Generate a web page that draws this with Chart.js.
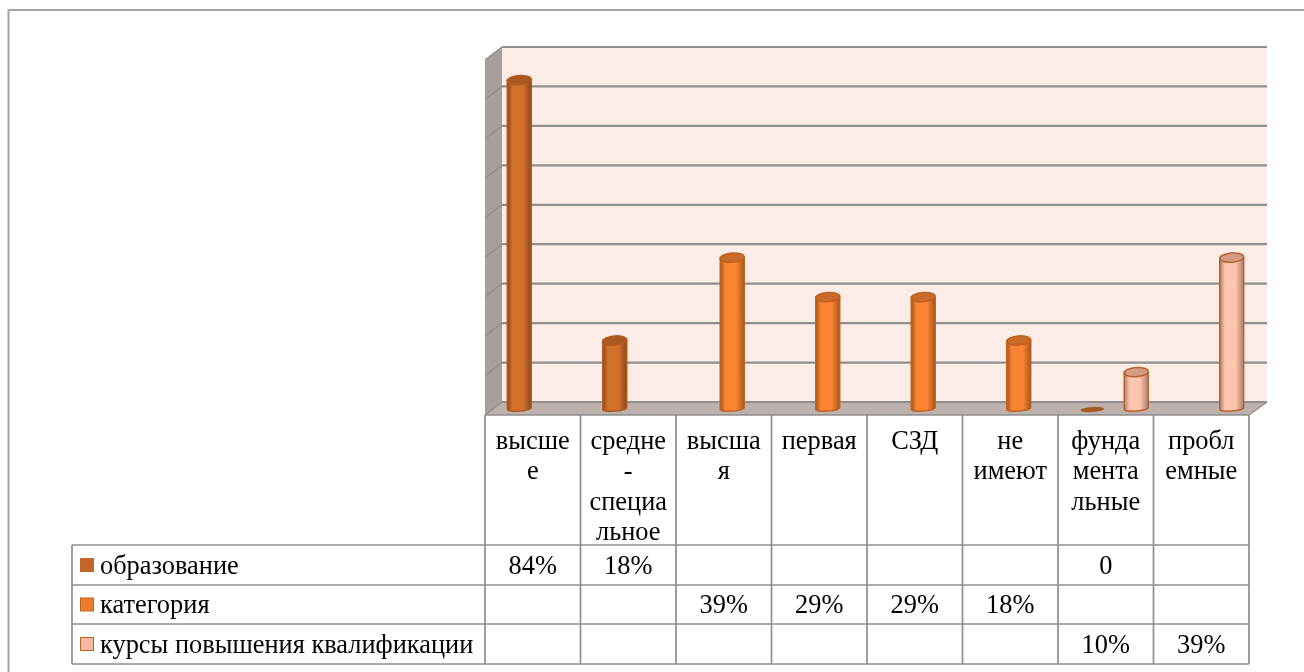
<!DOCTYPE html>
<html>
<head>
<meta charset="utf-8">
<title>chart</title>
<script src="https://cdn.jsdelivr.net/npm/chart.js@4"></script>
<style>
  html,body{margin:0;padding:0;background:#fff;overflow:hidden}
  canvas{display:block}
</style>
</head>
<body>
<canvas id="c" width="1304" height="672"></canvas>
<script>
// ----- data -----
const categories = [
  ["высше","е"],
  ["средне","-","специа","льное"],
  ["высша","я"],
  ["первая"],
  ["СЗД"],
  ["не","имеют"],
  ["фунда","мента","льные"],
  ["пробл","емные"]
];
const seriesNames = ["образование","категория","курсы повышения квалификации"];
const education = [84,18,null,null,null,null,0,null];
const category  = [null,null,39,29,29,18,null,null];
const courses   = [null,null,null,null,null,null,10,39];
const yTicks = {min:0,max:90,step:10};

// ----- looks -----
const FONT = '26.4px "Liberation Serif"';
const GRID = "#8f8f8f";
const LOOK = [
  {swatch:"#c4662a",edge:"#8f4814",mid:"#d2702c",top:"#a9591f",line:"#b25a1e"},
  {swatch:"#f27c2e",edge:"#a9551b",mid:"#fa8433",top:"#c96a28",line:"#c0621f"},
  {swatch:"#f8b9a4",edge:"#ab7f70",mid:"#ffc4ae",top:"#d29c86",line:"#b8622a"}
];
const DEPTH_X = 17, DEPTH_Y = 13;
const TABLE = {left:72, rows:[545,585,624,664]};

const fmt = v => v===null ? "" : (v===0 ? "0" : v+"%");

function drawWalls(ctx, area, y){
  const l=area.left, r=area.right, t=area.top, b=area.bottom;
  // back wall
  ctx.fillStyle="#fcece7";
  ctx.fillRect(l+DEPTH_X,t-DEPTH_Y,r-l+1,b-t);
  // side wall
  ctx.fillStyle="#a79f9b";
  ctx.beginPath();
  ctx.moveTo(l,t);ctx.lineTo(l+DEPTH_X,t-DEPTH_Y);ctx.lineTo(l+DEPTH_X,b-DEPTH_Y);ctx.lineTo(l,b);
  ctx.closePath();ctx.fill();
  // floor
  ctx.fillStyle="#bdb1ad";
  ctx.beginPath();
  ctx.moveTo(l,b);ctx.lineTo(l+DEPTH_X,b-DEPTH_Y);ctx.lineTo(r+DEPTH_X+1,b-DEPTH_Y);ctx.lineTo(r,b);
  ctx.closePath();ctx.fill();
  // gridlines run along the side wall then the back wall
  ctx.strokeStyle=GRID;
  y.ticks.forEach(tk=>{
    const py=y.getPixelForValue(tk.value);
    ctx.lineWidth=2.2;
    ctx.beginPath();
    ctx.moveTo(l+DEPTH_X,py-DEPTH_Y);ctx.lineTo(r+DEPTH_X+1,py-DEPTH_Y);
    ctx.stroke();
    ctx.lineWidth=1.5;
    ctx.beginPath();
    ctx.moveTo(l,py);ctx.lineTo(l+DEPTH_X,py-DEPTH_Y);
    ctx.stroke();
  });
  ctx.lineWidth=1.5;
  ctx.beginPath();
  ctx.moveTo(r,b);ctx.lineTo(r+DEPTH_X+1,b-DEPTH_Y);
  ctx.stroke();
}

function drawCylinder(ctx, bar, look){
  const cx=bar.x+DEPTH_X/2, w=bar.width+2, rx=w/2, ry=4.6;
  const topY=bar.y-DEPTH_Y/2+3, baseY=bar.base-DEPTH_Y/2;
  const tilt=-0.07;
  if(baseY-topY<4){ // zero value, just the flat disc
    ctx.fillStyle=look.top;
    ctx.beginPath();ctx.ellipse(cx,baseY+1,rx,2.5,tilt,0,Math.PI*2);ctx.fill();
    return;
  }
  const g=ctx.createLinearGradient(cx-rx,0,cx+rx,0);
  g.addColorStop(0,look.edge);g.addColorStop(.22,look.mid);
  g.addColorStop(.66,look.mid);g.addColorStop(1,look.edge);
  ctx.fillStyle=g;
  ctx.strokeStyle=look.line;
  ctx.lineWidth=1.5;
  ctx.beginPath();
  ctx.moveTo(cx-rx,topY);
  ctx.lineTo(cx-rx,baseY);
  ctx.ellipse(cx,baseY,rx,2.6,tilt,Math.PI,0,true);
  ctx.lineTo(cx+rx,topY);
  ctx.closePath();
  ctx.fill();ctx.stroke();
  ctx.fillStyle=look.top;
  ctx.beginPath();ctx.ellipse(cx,topY,rx,ry,tilt,0,Math.PI*2);ctx.fill();ctx.stroke();
}

function drawTable(ctx, chart){
  const x=chart.scales.x, area=chart.chartArea, rows=TABLE.rows;
  const half=(x.getPixelForTick(1)-x.getPixelForTick(0))/2;
  const series=[education,category,courses];
  ctx.strokeStyle=GRID;
  ctx.lineWidth=1.7;
  ctx.beginPath();
  // columns
  ctx.moveTo(area.left,area.bottom);ctx.lineTo(area.left,rows[3]);
  categories.forEach((c,i)=>{
    const px=x.getPixelForTick(i)+half;
    ctx.moveTo(px,area.bottom);ctx.lineTo(px,rows[3]);
  });
  ctx.moveTo(TABLE.left,rows[0]);ctx.lineTo(TABLE.left,rows[3]);
  // rows
  ctx.moveTo(area.left,area.bottom);ctx.lineTo(area.right,area.bottom);
  rows.forEach(r=>{ctx.moveTo(TABLE.left,r);ctx.lineTo(area.right,r);});
  ctx.stroke();

  ctx.font=FONT;
  ctx.textBaseline="middle";
  seriesNames.forEach((name,s)=>{
    const my=(rows[s]+rows[s+1])/2;
    ctx.fillStyle=LOOK[s].swatch;
    ctx.strokeStyle=s===0?LOOK[s].swatch:LOOK[s].line;
    ctx.lineWidth=1;
    ctx.fillRect(80.5,my-6.5,13,13);
    ctx.strokeRect(80.5,my-6.5,13,13);
    ctx.fillStyle="#000";
    ctx.textAlign="left";
    ctx.fillText(name,100,my+2);
    ctx.textAlign="center";
    series[s].forEach((v,i)=>{
      if(v!==null) ctx.fillText(fmt(v),x.getPixelForTick(i),my+2);
    });
  });
}

const cylinders = {
  id:"cylinders",
  beforeDatasetsDraw(chart){
    const ctx=chart.ctx;
    ctx.save();
    // outer frame of the picture, runs off the right and bottom
    ctx.strokeStyle="#a3a3a3";ctx.lineWidth=2;
    ctx.beginPath();ctx.moveTo(1304,10);ctx.lineTo(8.5,10);ctx.lineTo(8.5,672);ctx.stroke();
    drawWalls(ctx,chart.chartArea,chart.scales.y);
    drawTable(ctx,chart);
    ctx.restore();
  },
  beforeDatasetDraw(chart,args){
    const ctx=chart.ctx, look=LOOK[args.index];
    ctx.save();
    args.meta.data.forEach((bar,i)=>{
      if(chart.data.datasets[args.index].data[i]!==null) drawCylinder(ctx,bar,look);
    });
    ctx.restore();
    return false;
  }
};

new Chart(document.getElementById("c"),{
  type:"bar",
  data:{
    labels:categories,
    datasets:[
      {label:seriesNames[0],data:education,backgroundColor:LOOK[0].swatch},
      {label:seriesNames[1],data:category,backgroundColor:LOOK[1].swatch},
      {label:seriesNames[2],data:courses,backgroundColor:LOOK[2].swatch}
    ]
  },
  options:{
    responsive:false,
    animation:false,
    devicePixelRatio:1,
    categoryPercentage:.69,
    barPercentage:1,
    layout:{padding:{left:485,right:55,top:60,bottom:0}},
    plugins:{legend:{display:false},tooltip:{enabled:false},title:{display:false}},
    scales:{
      x:{
        grid:{display:false},
        border:{display:false},
        afterFit(s){s.height=257},
        ticks:{
          autoSkip:false,maxRotation:0,minRotation:0,padding:4,color:"#000",
          font:{family:"Liberation Serif",size:26.4,lineHeight:1.15}
        }
      },
      y:{display:false,min:yTicks.min,max:yTicks.max,ticks:{stepSize:yTicks.step}}
    }
  },
  plugins:[cylinders]
});
</script>
</body>
</html>
